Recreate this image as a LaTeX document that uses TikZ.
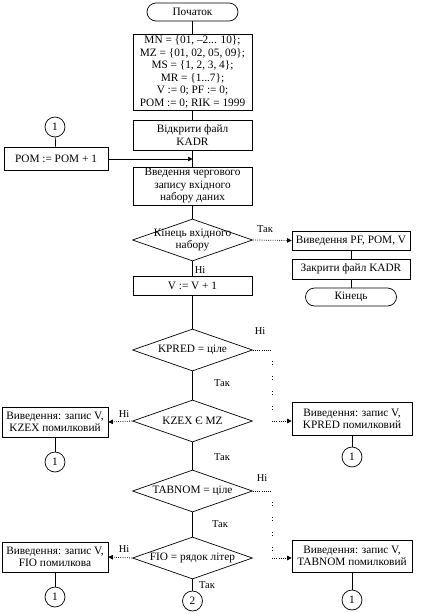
\documentclass[tikz,border=0pt]{standalone}
\usepackage{fontspec}
\setmainfont{Liberation Serif}
\usetikzlibrary{shapes.geometric,arrows.meta}
\begin{document}
\begin{tikzpicture}[x=1pt,y=-1pt,
  every node/.style={font=\fontsize{11.3}{12.5}\selectfont},
  blk/.style={draw,line width=0.7pt,align=center,inner sep=0pt},
  term/.style={blk,rounded corners=9pt,minimum width=91pt,minimum height=18pt},
  dia/.style={draw,line width=0.7pt,diamond,aspect=2.857,minimum width=120pt,minimum height=42pt,inner sep=0pt},
  dtxt/.style={align=center,inner sep=0pt},
  conn/.style={draw,circle,line width=0.7pt,minimum size=20pt,inner sep=0pt},
  ln/.style={line width=0.7pt},
  dotl/.style={line width=0.8pt,dash pattern=on 0.8pt off 1.4pt},
  sparse/.style={line width=0.8pt,dash pattern=on 0.9pt off 2pt on 0.9pt off 11.2pt,dash phase=3.8pt},
  arr/.style={-{Triangle[length=4.5pt,width=4.5pt]}},
  lbl/.style={inner sep=0pt,font=\fontsize{10.5}{12}\selectfont}
]
\useasboundingbox (0,0) rectangle (427,614);
% main column
\node[term] (start) at (192.5,12) {Початок};
\node[blk,minimum width=119pt,minimum height=76pt] (init) at (192.5,72)
  {MN = \{01, –2... 10\};\\ MZ = \{01, 02, 05, 09\};\\ MS = \{1, 2, 3, 4\};\\ MR = \{1...7\};\\ V := 0; PF := 0;\\ POM := 0; RIK = 1999};
\node[blk,minimum width=119pt,minimum height=30pt] (open) at (192.5,135) {Відкрити файл\\KADR};
\node[blk,minimum width=119pt,minimum height=38pt] (input) at (192.5,186) {Введення чергового\\запису вхідного\\набору даних};
\node[dia] (d1) at (192.5,240) {};
\node[dtxt] (d1t) at (d1.center) {Кінець вхідного\\набору};
\node[blk,minimum width=119pt,minimum height=19pt] (vbox) at (192.5,286) {V := V + 1};
\node[dia] (kpred) at (192.5,350) {};
\node[dtxt] (kpredt) at (kpred.center) {KPRED = ціле};
\node[dia] (kzex) at (192.5,421) {};
\node[dtxt] (kzext) at (kzex.center) {KZEX Є MZ};
\node[dia] (tabnom) at (192.5,491) {};
\node[dtxt] (tabnomt) at (tabnom.center) {TABNOM = ціле};
\node[dia] (fio) at (192.5,558) {};
\node[dtxt] (fiot) at (fio.center) {FIO = рядок літер};
\node[conn] (c2) at (192.5,601) {2};
% left top
\node[conn] (c1a) at (55,127) {1};
\node[blk,minimum width=104pt,minimum height=23pt] (pom) at (56,159) {POM := POM + 1};
% right top
\node[blk,minimum width=118pt,minimum height=19pt] (outpf) at (351,240.5) {Виведення PF, POM, V};
\node[blk,minimum width=118pt,minimum height=20pt] (close) at (351,269) {Закрити файл KADR};
\node[term] (end) at (351,297) {Кінець};
% error boxes
\node[blk,minimum width=120pt,minimum height=33pt] (kprederr) at (352,419) {Виведення: запис V,\\KPRED помилковий};
\node[conn] (c1b) at (352,457) {1};
\node[blk,minimum width=106pt,minimum height=30pt] (kzexerr) at (55,422) {Виведення: запис V,\\KZEX помилковий};
\node[conn] (c1c) at (55,462) {1};
\node[blk,minimum width=120pt,minimum height=32pt] (tabnomerr) at (352,556) {Виведення: запис V,\\TABNOM помилковий};
\node[conn] (c1e) at (352,600) {1};
\node[blk,minimum width=106pt,minimum height=30pt] (fioerr) at (55,557) {Виведення: запис V,\\FIO помилкова};
\node[conn] (c1d) at (55,597) {1};
% helper coordinates
\coordinate (k1) at (272,350);
\coordinate (k2) at (272,421);
\coordinate (t1) at (272,491);
\coordinate (t2) at (272,558);
% main connectors
\draw[ln] (start) -- (init);
\draw[ln] (init) -- (open);
\draw[ln] (open) -- (input);
\draw[ln] (input) -- (d1.north);
\draw[ln] (d1.south) -- (vbox);
\draw[ln] (vbox) -- (kpred.north);
\draw[ln] (kpred.south) -- (kzex.north);
\draw[ln] (kzex.south) -- (tabnom.north);
\draw[ln] (tabnom.south) -- (fio.north);
\draw[ln] (fio.south) -- (c2);
\draw[ln] (c1a) -- (pom);
\draw[ln,arr] (pom.east) -- (pom.east -| input.north);
\draw[dotl,arr] (d1.east) -- (outpf.west);
\draw[ln] (outpf) -- (close);
\draw[ln] (close) -- (end);
% KPRED branch
\draw[dotl] (kpred.east) -- (k1);
\draw[sparse] (k1) -- (k2);
\draw[dotl,arr] (k2) -- (k2 -| kprederr.west);
\draw[ln] (kprederr) -- (c1b);
% KZEX branch
\draw[dotl,arr] (kzex.west) -- (kzexerr.east);
\draw[ln] (kzexerr) -- (c1c);
% TABNOM branch
\draw[dotl] (tabnom.east) -- (t1);
\draw[sparse] (t1) -- (t2);
\draw[dotl,arr] (t2) -- (t2 -| tabnomerr.west);
\draw[ln] (tabnomerr) -- (c1e);
% FIO branch
\draw[dotl,arr] (fio.west) -- (fioerr.east);
\draw[ln] (fioerr) -- (c1d);
% labels
\node[lbl] (l1) at (265,229) {Так};
\node[lbl] (l2) at (200,270) {Ні};
\node[lbl] (l3) at (260,331) {Ні};
\node[lbl] (l4) at (222,383) {Так};
\node[lbl] (l5) at (124,414) {Ні};
\node[lbl] (l6) at (222,457) {Так};
\node[lbl] (l7) at (262,478) {Ні};
\node[lbl] (l8) at (220,524) {Так};
\node[lbl] (l9) at (124,549) {Ні};
\node[lbl] (l10) at (207,585) {Так};
\end{tikzpicture}
\end{document}
